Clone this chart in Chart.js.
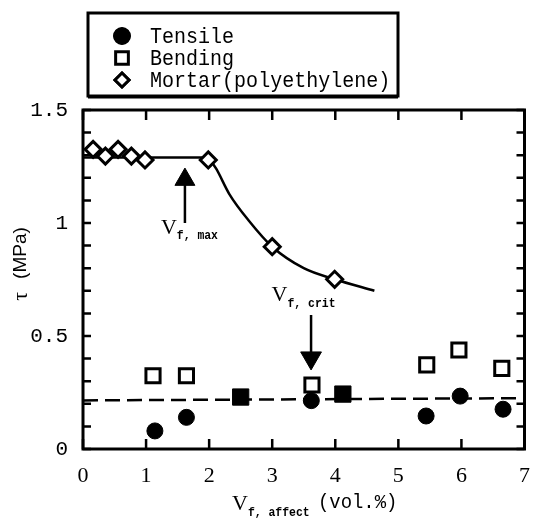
<!DOCTYPE html>
<html><head><meta charset="utf-8">
<script src="https://cdn.jsdelivr.net/npm/chart.js@4.4.0/dist/chart.umd.min.js"></script>
<style>html,body{margin:0;padding:0;background:#fff}#wrap{width:544px;height:518px;position:relative}</style>
</head><body><div id="wrap"><canvas id="c" width="544" height="518"></canvas></div>
<script>
// ---- data ----
const tensileX = [1.14, 1.64, 3.62, 5.44, 5.98, 6.66];
const tensileY = [0.080, 0.140, 0.214, 0.146, 0.234, 0.176];
const bendingX = [1.11, 1.64, 3.63, 5.45, 5.96, 6.64];
const bendingY = [0.324, 0.324, 0.283, 0.372, 0.438, 0.357];
const overlapX = [2.50, 4.12];
const overlapY = [0.230, 0.243];
const mortarX = [0.16, 0.355, 0.556, 0.767, 0.983, 1.986, 3.00, 3.99];
const mortarY = [1.326, 1.296, 1.326, 1.296, 1.279, 1.279, 0.895, 0.751];
const plateauX = [0, 1.99];
const plateauY = [1.29, 1.29];
const curveX = [1.99, 2.114, 2.32, 2.63, 3.00, 3.50, 3.99, 4.62];
const curveY = [1.29, 1.239, 1.128, 1.010, 0.895, 0.800, 0.751, 0.700];
const fitX = [0, 7];
const fitY = [0.215, 0.225];
const xTickValues = [0, 1, 2, 3, 4, 5, 6, 7];
const yTickValues = [0, 0.5, 1, 1.5];
const yTickLabels = ['0', '0.5', '1', '1.5'];
const legendLabels = ['Tensile', 'Bending', 'Mortar(polyethylene)'];
// annotation arrows (data units)
const arrowMaxShaftX = [1.616, 1.616];
const arrowMaxShaftY = [1.00, 1.17];
const arrowMaxHeadX = [1.616];
const arrowMaxHeadY = [1.192];
const arrowCritShaftX = [3.616, 3.616];
const arrowCritShaftY = [0.593, 0.42];
const arrowCritHeadX = [3.616];
const arrowCritHeadY = [0.403];
const annoLabels = [
  {x: 1.235, y: 0.978, main: 'V', sub: 'f, max'},
  {x: 2.99, y: 0.680, main: 'V', sub: 'f, crit'}
];

const pts = (xs, ys) => xs.map((x, i) => ({x: x, y: ys[i]}));
const K = '#000';

const datasets = [
  {label: legendLabels[0], data: pts(tensileX, tensileY), pointStyle: 'circle', pointRadius: 8,
   backgroundColor: K, borderColor: K, borderWidth: 1, showLine: false},
  {label: legendLabels[1], data: pts(bendingX, bendingY), pointStyle: 'rect', pointRadius: 10,
   backgroundColor: '#fff', borderColor: K, borderWidth: 3, showLine: false},
  {label: legendLabels[2], data: pts(mortarX, mortarY), pointStyle: 'rectRot', pointRadius: 8,
   backgroundColor: '#fff', borderColor: K, borderWidth: 3, showLine: false},
  {label: '_overlap', data: pts(overlapX, overlapY), pointStyle: 'rect', pointRadius: 11.5,
   backgroundColor: K, borderColor: K, borderWidth: 1, showLine: false},
  {label: '_headMax', data: pts(arrowMaxHeadX, arrowMaxHeadY), pointStyle: 'triangle', pointRadius: 11.5,
   backgroundColor: K, borderColor: K, borderWidth: 1, showLine: false},
  {label: '_headCrit', data: pts(arrowCritHeadX, arrowCritHeadY), pointStyle: 'triangle', pointRadius: 12,
   rotation: 180, backgroundColor: K, borderColor: K, borderWidth: 1, showLine: false},
  {label: '_plateau', data: pts(plateauX, plateauY), showLine: true, pointRadius: 0,
   borderColor: K, borderWidth: 2.5, tension: 0},
  {label: '_curve', data: pts(curveX, curveY), showLine: true, pointRadius: 0,
   borderColor: K, borderWidth: 2.5, cubicInterpolationMode: 'monotone'},
  {label: '_fit', data: pts(fitX, fitY), showLine: true, pointRadius: 0,
   borderColor: K, borderWidth: 2.5, borderDash: [15, 7]},
  {label: '_shaftMax', data: pts(arrowMaxShaftX, arrowMaxShaftY), showLine: true, pointRadius: 0,
   borderColor: K, borderWidth: 2.5},
  {label: '_shaftCrit', data: pts(arrowCritShaftX, arrowCritShaftY), showLine: true, pointRadius: 0,
   borderColor: K, borderWidth: 2.5}
];

// text squeezed horizontally to a target advance per character
function drawSqueezed(ctx, text, x, y, font, sx) {
  ctx.save();
  ctx.font = font; ctx.textAlign = 'left'; ctx.textBaseline = 'middle';
  ctx.translate(x, y); ctx.scale(sx, 1);
  ctx.fillText(text, 0, 0);
  ctx.restore();
}

const framePlugin = {
  id: 'frame',
  afterDraw(chart) {
    const ctx = chart.ctx, a = chart.chartArea, xs = chart.scales.x, ys = chart.scales.y;
    ctx.save();
    ctx.strokeStyle = K; ctx.fillStyle = K; ctx.lineWidth = 3;
    ctx.strokeRect(a.left, a.top, a.right - a.left, a.bottom - a.top);
    ctx.lineWidth = 2.5;
    ctx.beginPath();
    ys.ticks.forEach(t => {
      const y = ys.getPixelForValue(t.value);
      ctx.moveTo(a.left, y); ctx.lineTo(a.left + 8, y);
      ctx.moveTo(a.right, y); ctx.lineTo(a.right - 8, y);
    });
    xs.ticks.forEach(t => {
      const x = xs.getPixelForValue(t.value);
      ctx.moveTo(x, a.bottom); ctx.lineTo(x, a.bottom - 10);
      ctx.moveTo(x, a.top); ctx.lineTo(x, a.top + 10);
    });
    ctx.stroke();

    // annotation labels
    ctx.textBaseline = 'middle'; ctx.textAlign = 'left';
    annoLabels.forEach(l => {
      const px = xs.getPixelForValue(l.x), py = ys.getPixelForValue(l.y);
      ctx.font = '22px "Liberation Serif"';
      ctx.fillText(l.main, px, py);
      const w = ctx.measureText(l.main).width;
      drawSqueezed(ctx, l.sub, px + w, py + 8, 'bold 13px "Liberation Mono"', 0.88);
    });

    // x axis title
    ctx.font = '22px "Liberation Serif"';
    ctx.textBaseline = 'middle';
    ctx.fillText('V', 232, 504);
    const wv = ctx.measureText('V').width;
    drawSqueezed(ctx, 'f, affect', 232 + wv, 513, 'bold 13px "Liberation Mono"', 0.88);
    drawSqueezed(ctx, '(vol.%)', 318, 502, '21px "Liberation Mono"', 0.9);

    // y axis title
    ctx.save();
    ctx.translate(21, 264);
    ctx.rotate(-Math.PI / 2);
    ctx.textBaseline = 'middle';
    ctx.font = '22px "Liberation Serif"';
    const tau = '\u03C4';
    const wt = ctx.measureText(tau).width;
    ctx.font = '19px "Liberation Sans"';
    const wm = ctx.measureText('(MPa)').width;
    const gap = 13, total = wt + gap + wm;
    ctx.textAlign = 'left';
    ctx.font = '22px "Liberation Serif"';
    ctx.fillText(tau, -total / 2, 0);
    ctx.font = '19px "Liberation Sans"';
    ctx.fillText('(MPa)', -total / 2 + wt + gap, 0);
    ctx.restore();

    // legend
    ctx.lineWidth = 3;
    ctx.strokeRect(88, 13, 310, 83);
    ctx.lineWidth = 2;
    ctx.beginPath(); ctx.moveTo(88, 97.5); ctx.lineTo(398, 97.5); ctx.stroke();
    const rows = [36, 58, 80];
    [0, 1, 2].forEach(i => {
      const ds = chart.data.datasets[i];
      ctx.beginPath();
      Chart.helpers.drawPoint(ctx, {
        pointStyle: ds.pointStyle, radius: i === 0 ? 8 : (i === 1 ? 9 : 7),
        rotation: 0, borderWidth: ds.borderWidth
      }, 122, rows[i]);
      ctx.fillStyle = ds.backgroundColor; ctx.strokeStyle = ds.borderColor; ctx.lineWidth = ds.borderWidth;
      ctx.fill(); ctx.stroke();
      ctx.fillStyle = K;
      drawSqueezed(ctx, ds.label, 150, rows[i] + 1, '22px "Liberation Mono"', 0.91);
    });
    ctx.restore();
  }
};

new Chart(document.getElementById('c'), {
  type: 'scatter',
  data: {datasets: datasets},
  options: {
    responsive: false, animation: false, devicePixelRatio: 1,
    layout: {padding: {top: 110, right: 7, left: 0, bottom: 0}},
    plugins: {legend: {display: false}, tooltip: {enabled: false}},
    scales: {
      x: {
        type: 'linear', min: 0, max: 7,
        afterBuildTicks: s => { s.ticks = xTickValues.map(v => ({value: v})); },
        ticks: {font: {family: 'Liberation Serif', size: 22}, color: K, padding: 14, autoSkip: false, maxRotation: 0,
                callback: v => String(v)},
        grid: {display: false, drawTicks: false}, border: {display: false},
        afterFit: s => { s.height = 69; }
      },
      y: {
        type: 'linear', min: 0, max: 1.5,
        ticks: {stepSize: 0.1, font: {family: 'Liberation Mono', size: 21}, color: K, padding: 15, autoSkip: false,
                callback: v => { const i = yTickValues.findIndex(t => Math.abs(t - v) < 1e-6); return i >= 0 ? yTickLabels[i] : ''; }},
        grid: {display: false, drawTicks: false}, border: {display: false},
        afterFit: s => { s.width = 83; }
      }
    }
  },
  plugins: [framePlugin]
});
</script>
</body></html>
